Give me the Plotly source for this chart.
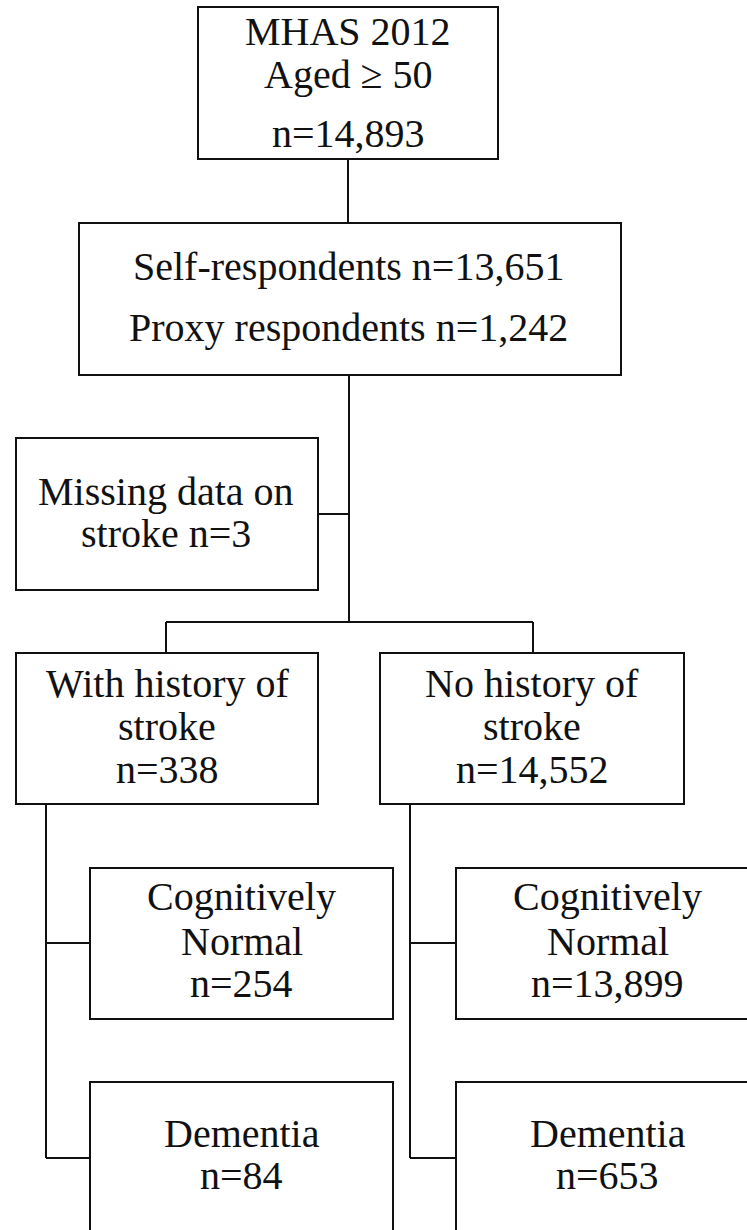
import plotly.graph_objects as go

# ---- data ----
cohort_label = ["MHAS 2012", "Aged ≥ 50"]
cohort_n = 14893
self_resp_n = 13651
proxy_resp_n = 1242
missing_stroke_n = 3
group_labels = [["With history of", "stroke"], ["No history of", "stroke"]]
group_n = [338, 14552]
outcome_labels = [["Cognitively", "Normal"], ["Dementia"]]
normal_n = [254, 13899]
dementia_n = [84, 653]

def fmt(n):
    return f"n={n:,}"

# ---- layout geometry (pixel coordinates, y down) ----
W, H = 747, 1230
LINE = dict(color="#111111", width=2)
FONT = dict(family="Liberation Serif, Times New Roman, serif", size=40, color="#111111")

shapes = []
annotations = []

def box(x0, y0, x1, y1):
    shapes.append(dict(type="rect", xref="x", yref="y", x0=x0, y0=y0, x1=x1, y1=y1,
                       line=LINE, fillcolor="rgba(0,0,0,0)", layer="above"))

def seg(x0, y0, x1, y1):
    shapes.append(dict(type="line", xref="x", yref="y", x0=x0, y0=y0, x1=x1, y1=y1,
                       line=LINE, layer="above"))

def text(x, y, s):
    annotations.append(dict(x=x, y=y, xref="x", yref="y", text=s, showarrow=False,
                            xanchor="center", yanchor="middle", font=FONT))

# top box
box(198, 7, 498, 159)
text(348, 31, cohort_label[0])
text(348, 74, cohort_label[1])
text(348, 133, fmt(cohort_n))
seg(348, 159, 348, 223)

# respondents box
box(79, 223, 621, 375)
text(348, 266, f"Self-respondents {fmt(self_resp_n)}")
text(348, 327, f"Proxy respondents {fmt(proxy_resp_n)}")
seg(349, 375, 349, 622)

# missing box
box(16, 438, 318, 590)
text(166, 491, "Missing data on")
text(166, 533, f"stroke {fmt(missing_stroke_n)}")
seg(318, 514, 349, 514)

# branch
seg(166, 622, 533, 622)
seg(166, 622, 166, 653)
seg(533, 622, 533, 653)

group_x = [(16, 318), (380, 684)]
trunk_x = [46, 410]
out_x = [(90, 393), (456, 759)]
for i in range(2):
    gx0, gx1 = group_x[i]
    cx = (gx0 + gx1) / 2
    box(gx0, 653, gx1, 804)
    text(cx, 683, group_labels[i][0])
    text(cx, 726, group_labels[i][1])
    text(cx, 769, fmt(group_n[i]))
    tx = trunk_x[i]
    seg(tx, 804, tx, 1158)
    ox0, ox1 = out_x[i]
    ocx = (ox0 + ox1) / 2
    # cognitively normal
    box(ox0, 868, ox1, 1019)
    seg(tx, 943, ox0, 943)
    text(ocx, 896, outcome_labels[0][0])
    text(ocx, 941, outcome_labels[0][1])
    text(ocx, 983, fmt(normal_n[i]))
    # dementia
    box(ox0, 1082, ox1, 1260)
    seg(tx, 1158, ox0, 1158)
    text(ocx, 1133, outcome_labels[1][0])
    text(ocx, 1175, fmt(dementia_n[i]))

fig = go.Figure()
fig.add_trace(go.Scatter(x=[0, W], y=[0, H], mode="markers",
                         marker=dict(opacity=0), hoverinfo="skip", showlegend=False))
fig.update_layout(
    width=W, height=H,
    margin=dict(l=0, r=0, t=0, b=0),
    paper_bgcolor="white", plot_bgcolor="white",
    xaxis=dict(range=[0, W], visible=False, fixedrange=True),
    yaxis=dict(range=[H, 0], visible=False, fixedrange=True),
    shapes=shapes, annotations=annotations, showlegend=False,
)
fig.write_html("out.html", config={"displayModeBar": False},
               post_script="document.body.style.margin='0';document.body.style.overflow='hidden';")
